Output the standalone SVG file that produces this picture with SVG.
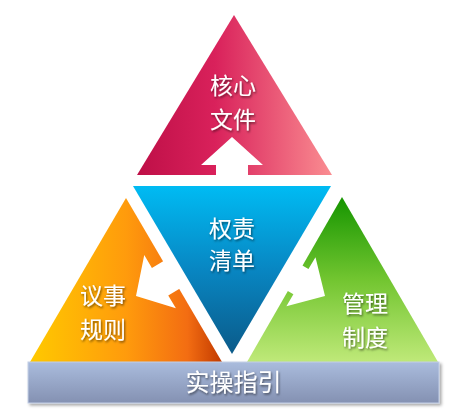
<svg xmlns="http://www.w3.org/2000/svg" width="460" height="415" viewBox="0 0 460 415">
  <defs>
    <linearGradient id="gTop" x1="0" y1="0" x2="1" y2="0">
      <stop offset="0" stop-color="#be0f47"/>
      <stop offset="0.4" stop-color="#d9215b"/>
      <stop offset="1" stop-color="#fa8d91"/>
    </linearGradient>
    <linearGradient id="gBlue" x1="0" y1="0" x2="0" y2="1">
      <stop offset="0" stop-color="#00bbf3"/>
      <stop offset="0.5" stop-color="#0886c2"/>
      <stop offset="1" stop-color="#0b5a89"/>
    </linearGradient>
    <linearGradient id="gOrange" x1="0" y1="0" x2="1" y2="0">
      <stop offset="0" stop-color="#ffc900"/>
      <stop offset="0.5" stop-color="#ff9b0c"/>
      <stop offset="0.82" stop-color="#f36d12"/>
      <stop offset="1" stop-color="#c23a00"/>
    </linearGradient>
    <linearGradient id="gGreen" x1="0" y1="0" x2="0" y2="1">
      <stop offset="0" stop-color="#159500"/>
      <stop offset="0.5" stop-color="#72c530"/>
      <stop offset="1" stop-color="#bfe979"/>
    </linearGradient>
    <linearGradient id="gBar" x1="0" y1="0" x2="0" y2="1">
      <stop offset="0" stop-color="#aabcdd"/>
      <stop offset="1" stop-color="#8491b2"/>
    </linearGradient>
    <filter id="tsh" x="-20%" y="-20%" width="140%" height="140%">
      <feDropShadow dx="1" dy="1.5" stdDeviation="0.8" flood-color="#000" flood-opacity="0.55"/>
    </filter>
    <filter id="bsh" x="-5%" y="-20%" width="110%" height="150%">
      <feDropShadow dx="2" dy="2" stdDeviation="1.5" flood-color="#000" flood-opacity="0.35"/>
    </filter>
    <polygon id="arrow" points="0,0 31,28 16,28 16,44 -16,44 -16,28 -31,28"/>
  </defs>
  <style>
    .lbl { font-family: "Noto Sans CJK SC", "Noto Sans", sans-serif; font-size: 23px; fill: #ffffff; text-anchor: middle; }
    .bar { font-size: 24px; }
    .arw { fill: #ffffff; }
  </style>

  <g id="node-core">
    <polygon points="234,15 137,175 332,175" fill="url(#gTop)"/>
    <text class="lbl" x="233" y="94" filter="url(#tsh)">核心</text>
    <text class="lbl" x="233" y="127.5" filter="url(#tsh)">文件</text>
  </g>

  <g id="node-rules">
    <polygon points="126,198 30,362 222,362" fill="url(#gOrange)"/>
    <text class="lbl" x="103" y="304" filter="url(#tsh)">议事</text>
    <text class="lbl" x="103" y="337.5" filter="url(#tsh)">规则</text>
  </g>

  <g id="node-mgmt">
    <polygon points="342,197 247,362 438,362" fill="url(#gGreen)"/>
    <text class="lbl" x="365" y="312" filter="url(#tsh)">管理</text>
    <text class="lbl" x="365" y="345.5" filter="url(#tsh)">制度</text>
  </g>

  <g id="node-list">
    <polygon points="133,186 331,186 232,354" fill="url(#gBlue)"/>
    <text class="lbl" x="232" y="236.5" filter="url(#tsh)">权责</text>
    <text class="lbl" x="232" y="268.5" filter="url(#tsh)">清单</text>
  </g>

  <g id="node-guide">
    <rect x="28" y="362" width="411" height="41" fill="url(#gBar)" stroke="#c3cfe6" stroke-width="1" filter="url(#bsh)"/>
    <text class="lbl bar" x="233.5" y="391" filter="url(#tsh)">实操指引</text>
  </g>

  <g id="connectors">
    <use href="#arrow" class="arw" transform="translate(232,137)"/>
    <use href="#arrow" class="arw" transform="translate(136,296) rotate(-120.7)"/>
    <use href="#arrow" class="arw" transform="translate(325,296) rotate(120.7) scale(0.92,1)"/>
  </g>
</svg>
